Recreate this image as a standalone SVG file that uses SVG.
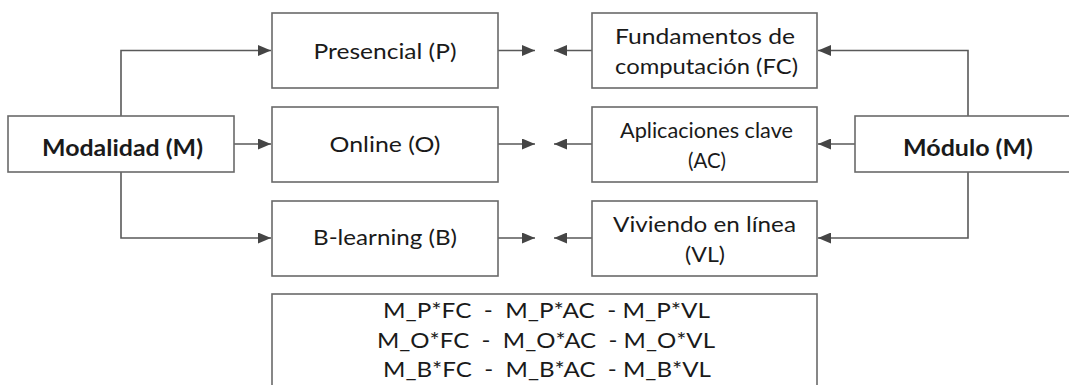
<svg xmlns="http://www.w3.org/2000/svg" width="1069" height="385" viewBox="0 0 1069 385">
<style>
.box{fill:#fff;stroke:#6a6a6a;stroke-width:1.6}
.t{font-family:Lato,"Open Sans","Liberation Sans",sans-serif;font-size:22px;fill:#1a1a1a;text-anchor:middle}
.b{font-weight:bold}
.c{fill:none;stroke:#595959;stroke-width:1.6}
</style>
<defs>
<marker id="ah" markerUnits="userSpaceOnUse" markerWidth="13" markerHeight="11" refX="13" refY="5.5" orient="auto">
<path d="M0,0 L13,5.5 L0,11 z" fill="#454545"/>
</marker>
</defs>
<rect width="1069" height="385" fill="#fff"/>
<g id="connectors">
<path class="c" d="M121,116 V50.5 H271" marker-end="url(#ah)"/>
<path class="c" d="M234,144 H271" marker-end="url(#ah)"/>
<path class="c" d="M121,172 V238 H271" marker-end="url(#ah)"/>
<path class="c" d="M498,50.5 H535" marker-end="url(#ah)"/>
<path class="c" d="M498,144 H535" marker-end="url(#ah)"/>
<path class="c" d="M498,238 H535" marker-end="url(#ah)"/>
<path class="c" d="M592,50.5 H554" marker-end="url(#ah)"/>
<path class="c" d="M592,144 H554" marker-end="url(#ah)"/>
<path class="c" d="M592,238 H554" marker-end="url(#ah)"/>
<path class="c" d="M968,116 V50.5 H818" marker-end="url(#ah)"/>
<path class="c" d="M855,144 H818" marker-end="url(#ah)"/>
<path class="c" d="M968,172 V238 H818" marker-end="url(#ah)"/>
</g>
<g id="modalidad">
<rect class="box" x="8" y="116" width="226" height="56"/>
<text class="t b" x="122.5" y="156" textLength="161" lengthAdjust="spacingAndGlyphs">Modalidad (M)</text>
</g>
<g id="presencial">
<rect class="box" x="272" y="13" width="226" height="75"/>
<text class="t" x="385" y="59" textLength="143" lengthAdjust="spacingAndGlyphs">Presencial (P)</text>
</g>
<g id="online">
<rect class="box" x="272" y="107" width="226" height="75"/>
<text class="t" x="385" y="152" textLength="111" lengthAdjust="spacingAndGlyphs">Online (O)</text>
</g>
<g id="blearning">
<rect class="box" x="272" y="201" width="226" height="75"/>
<text class="t" x="385" y="245" textLength="144" lengthAdjust="spacingAndGlyphs">B-learning (B)</text>
</g>
<g id="fc">
<rect class="box" x="592" y="13" width="225" height="75"/>
<text class="t" x="705" y="44" textLength="180" lengthAdjust="spacingAndGlyphs">Fundamentos de</text>
<text class="t" x="706.5" y="74" textLength="183" lengthAdjust="spacingAndGlyphs">computación (FC)</text>
</g>
<g id="ac">
<rect class="box" x="592" y="107" width="225" height="75"/>
<text class="t" x="706.5" y="138" textLength="173" lengthAdjust="spacingAndGlyphs">Aplicaciones clave</text>
<text class="t" x="707" y="168" textLength="38" lengthAdjust="spacingAndGlyphs">(AC)</text>
</g>
<g id="vl">
<rect class="box" x="592" y="201" width="225" height="75"/>
<text class="t" x="704.5" y="232" textLength="183" lengthAdjust="spacingAndGlyphs">Viviendo en línea</text>
<text class="t" x="705" y="262" textLength="40" lengthAdjust="spacingAndGlyphs">(VL)</text>
</g>
<g id="modulo">
<rect class="box" x="855" y="116" width="226" height="56"/>
<text class="t b" x="968" y="156" textLength="130" lengthAdjust="spacingAndGlyphs">Módulo (M)</text>
</g>
<g id="combinaciones">
<rect class="box" x="272" y="294" width="545" height="100"/>
<text class="t" x="546.5" y="318" textLength="327" lengthAdjust="spacingAndGlyphs" xml:space="preserve">M_P*FC  -  M_P*AC  - M_P*VL</text>
<text class="t" x="546" y="348" textLength="338" lengthAdjust="spacingAndGlyphs" xml:space="preserve">M_O*FC  -  M_O*AC  - M_O*VL</text>
<text class="t" x="547" y="377" textLength="328" lengthAdjust="spacingAndGlyphs" xml:space="preserve">M_B*FC  -  M_B*AC  - M_B*VL</text>
</g>
</svg>
